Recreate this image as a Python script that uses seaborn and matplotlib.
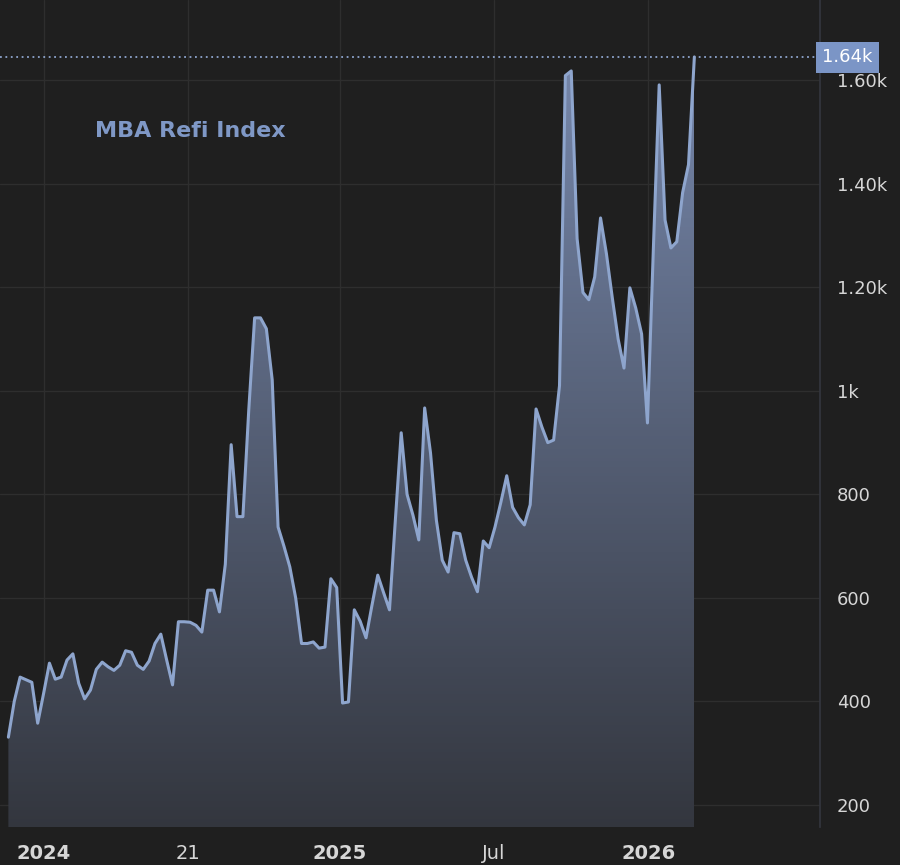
import numpy as np
import pandas as pd
import matplotlib
matplotlib.use("Agg")
import matplotlib.pyplot as plt
import matplotlib.dates as mdates
from matplotlib.colors import LinearSegmentedColormap
import seaborn as sns

# weekly MBA refinance index (oldest first)
refi = [
    331, 400, 447, 442, 437, 358, 415, 474, 443, 447,
    480, 492, 435, 405, 422, 462, 476, 467, 460, 470,
    498, 495, 470, 462, 478, 512, 530, 480, 432, 554,
    554, 553, 547, 534, 615, 615, 573, 665, 896, 757,
    757, 963, 1141, 1141, 1120, 1021, 737, 700, 660, 600,
    512, 512, 515, 503, 505, 637, 620, 397, 399, 577,
    555, 523, 585, 644, 610, 577, 750, 919, 800, 760,
    712, 967, 880, 750, 673, 650, 726, 724, 673, 640,
    612, 710, 697, 737, 785, 836, 775, 755, 741, 780,
    965, 930, 900, 905, 1010, 1609, 1618, 1294, 1190, 1176,
    1220, 1334, 1265, 1180, 1100, 1044, 1199, 1160, 1110, 938,
    1272, 1591, 1330, 1276, 1288, 1383, 1437, 1645,
]
end_date = "2026-02-25"
last_label = "1.64k"
last_value = 1644

# time-axis labels sit on the first weekly bar shown for each period
tick_dates = ["2024-01-10", "2024-07-01", "2024-12-29", "2025-07-01", "2026-01-01"]
tick_names = ["2024", "21", "2025", "Jul", "2026"]
y_ticks = [200, 400, 600, 800, 1000, 1200, 1400, 1600]
y_names = ["200", "400", "600", "800", "1k", "1.20k", "1.40k", "1.60k"]

dates = pd.date_range(end=end_date, periods=len(refi), freq="7D")
df = pd.DataFrame({"date": dates, "refi": refi})

sns.set_theme(style="dark")
plt.rcParams["font.family"] = ["DejaVu Sans"]

bg = "#1f1f1f"
line_col = "#8ea5cd"

fig = plt.figure(figsize=(9, 8.65), dpi=100, facecolor=bg)
ax = fig.add_axes([0, 38 / 865, 820 / 900, 827 / 865])
ax.set_facecolor(bg)

# gradient area under the line
poly = ax.fill_between(df["date"], df["refi"], 0, color="none", lw=0)
x0 = mdates.date2num(df["date"].iloc[0])
x1 = mdates.date2num(df["date"].iloc[-1])
cmap = LinearSegmentedColormap.from_list("fade", ["#33363e", "#7687ab"])
grad = np.linspace(0, 1, 256).reshape(-1, 1)
img = ax.imshow(grad, extent=[x0, x1, 150, 1650], origin="lower",
                aspect="auto", cmap=cmap, zorder=1)
img.set_clip_path(poly.get_paths()[0], transform=ax.transData)

sns.lineplot(data=df, x="date", y="refi", color=line_col, lw=2.2, ax=ax, zorder=3)

ax.axhline(last_value, color=line_col, lw=1.3, ls=(0, (1, 2)), zorder=2)

# axes limits
ax.set_xlim(mdates.date2num(pd.Timestamp("2023-11-19")),
            mdates.date2num(pd.Timestamp("2026-07-25")))
ax.set_ylim(157.5, 1755)

ax.set_xticks(mdates.date2num(pd.to_datetime(tick_dates)))
ax.set_xticklabels(tick_names)
for lab in ax.get_xticklabels():
    if lab.get_text().isdigit() and len(lab.get_text()) == 4:
        lab.set_fontweight("bold")
ax.set_yticks(y_ticks)
ax.set_yticklabels(y_names)

ax.yaxis.tick_right()
ax.tick_params(axis="y", length=0, pad=12, labelsize=13, colors="#d6d6d6")
ax.tick_params(axis="x", length=0, pad=12, labelsize=14, colors="#d6d6d6")
ax.grid(True, color="#2e2e2e", lw=1)
ax.set_axisbelow(True)
ax.set_xlabel("")
ax.set_ylabel("")
for side in ["top", "left", "bottom"]:
    ax.spines[side].set_visible(False)
ax.spines["right"].set_color("#33353d")

ax.text(95 / 820, 1 - 131 / 827, "MBA Refi Index", transform=ax.transAxes,
        color="#7f98c6", fontsize=16, fontweight="bold", va="center", ha="left")

ax.text(1.003, last_value, last_label, transform=ax.get_yaxis_transform(),
        color="white", fontsize=13, va="center", ha="left", zorder=10,
        clip_on=False,
        bbox=dict(boxstyle="square,pad=0.35", fc="#7b95c6", ec="none"))

plt.savefig("out.png", dpi=100, facecolor=bg)
